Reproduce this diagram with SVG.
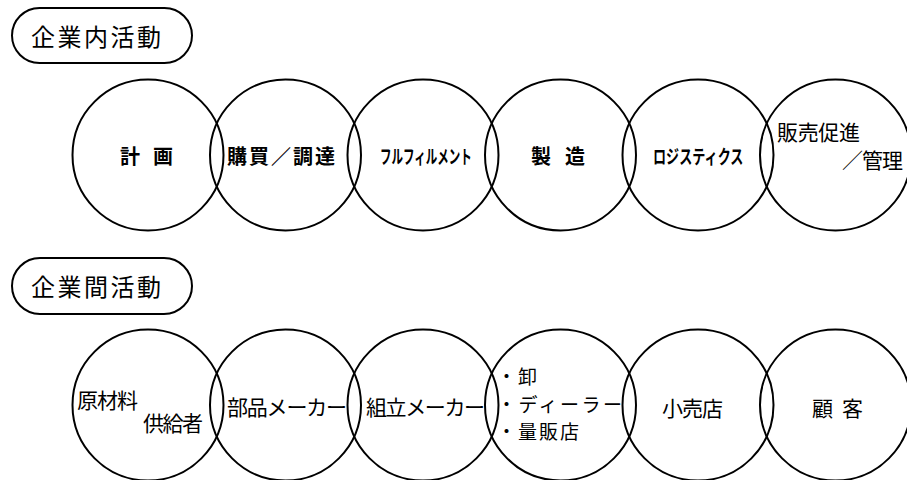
<svg xmlns="http://www.w3.org/2000/svg" width="907" height="480" viewBox="0 0 907 480">
<style>
text{font-family:"Noto Sans CJK JP","Noto Sans CJK SC",sans-serif;fill:#000}
.c{fill:none;stroke:#000;stroke-width:2}
.hdr{fill:#fff;stroke:#000;stroke-width:2}
.ht{font-size:24px;letter-spacing:2px}
.t{font-size:20px;font-weight:bold}
.r{font-size:21px}
.s{font-size:19px}
</style>
<rect width="907" height="480" fill="#fff"/>
<g id="hdr1"><rect class="hdr" x="12" y="8" width="180" height="55" rx="27.5"/><text class="ht" x="31" y="46" textLength="132">企業内活動</text></g>
<g id="hdr2"><rect class="hdr" x="12" y="258" width="180" height="56" rx="28"/><text class="ht" x="31" y="296" textLength="132">企業間活動</text></g>
<g id="row1">
<g id="n-keikaku"><circle class="c" cx="148" cy="155" r="75.5"/><text class="t" x="120" y="164" textLength="53">計 画</text></g>
<g id="n-kobai"><circle class="c" cx="285.5" cy="155" r="75.5"/><text class="t" x="227" y="164" textLength="108">購買／調達</text></g>
<g id="n-fulfil"><circle class="c" cx="423" cy="155" r="75.5"/><text transform="translate(380 164) scale(1 1.65)" x="0" y="0" font-size="11.5" font-weight="bold">フルフィルメント</text></g>
<g id="n-seizo"><circle class="c" cx="560.5" cy="155" r="75.5"/><text class="t" x="531" y="164" textLength="54">製 造</text></g>
<g id="n-logi"><circle class="c" cx="698" cy="155" r="75.5"/><text transform="translate(653 164) scale(1 1.45)" x="0" y="0" font-size="13.1" font-weight="bold">ロジスティクス</text></g>
<g id="n-hanbai"><circle class="c" cx="835.5" cy="155" r="75.5"/><text class="r" x="777" y="140" textLength="83">販売促進</text><text class="r" x="842" y="168" textLength="61">／管理</text></g>
</g>
<g id="row2">
<g id="n-genzai"><circle class="c" cx="148" cy="405" r="75.5"/><text class="r" x="77" y="408" textLength="61">原材料</text><text class="r" x="143" y="431" textLength="60">供給者</text></g>
<g id="n-buhin"><circle class="c" cx="285.5" cy="405" r="75.5"/><text class="r" x="227" y="415" textLength="120">部品メーカー</text></g>
<g id="n-kumitate"><circle class="c" cx="423" cy="405" r="75.5"/><text class="r" x="366" y="415" textLength="119">組立メーカー</text></g>
<g id="n-oroshi"><circle class="c" cx="560.5" cy="405" r="75.5"/><text class="s" x="497" y="384" textLength="40">・卸</text><text class="s" x="497" y="412" textLength="125">・ディーラー</text><text class="s" x="497" y="439" textLength="82">・量販店</text></g>
<g id="n-kouri"><circle class="c" cx="698" cy="405" r="75.5"/><text class="r" x="662" y="416" textLength="61">小売店</text></g>
<g id="n-kokyaku"><circle class="c" cx="835.5" cy="405" r="75.5"/><text class="r" x="812" y="416" textLength="51">顧 客</text></g>
</g>
<g id="connectors"/>
</svg>
